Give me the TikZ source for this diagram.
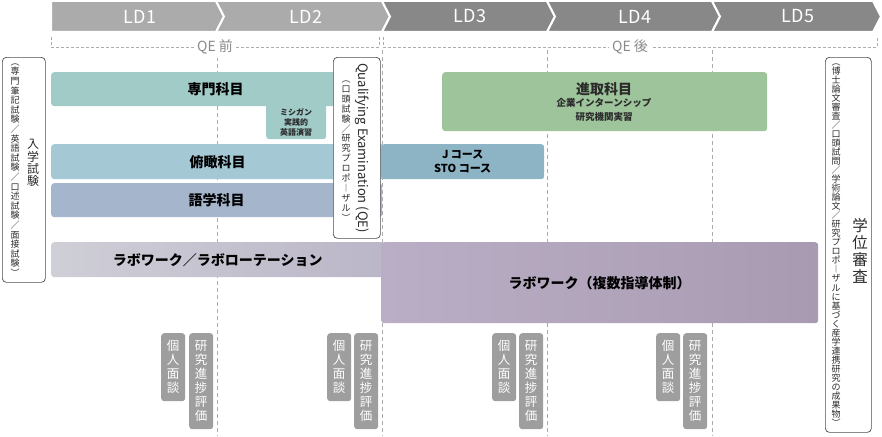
\documentclass[tikz,border=0pt]{standalone}
\usepackage{fontspec}
\setmainfont{Noto Sans CJK JP}
\usepackage{xcolor}
\usepackage{tikz}

\definecolor{ldlight}{HTML}{ABABAB}
\definecolor{lddark}{HTML}{888888}
\definecolor{senmoncol}{HTML}{A0CBC7}
\definecolor{fukancol}{HTML}{A5C8D5}
\definecolor{jcol}{HTML}{8DB4C5}
\definecolor{gogakucol}{HTML}{A5B5CC}
\definecolor{shinshucol}{HTML}{9DC49A}
\definecolor{labrotl}{HTML}{CFCFD7}
\definecolor{labrotr}{HTML}{BBB6C8}
\definecolor{labworkl}{HTML}{BAAEC6}
\definecolor{labworkr}{HTML}{A89BB1}
\definecolor{talkgray}{HTML}{9E9E9E}
\definecolor{framegray}{HTML}{4D4D4D}
\definecolor{guidegray}{HTML}{ABABAB}
\definecolor{txtdark}{HTML}{2B2B2B}
\definecolor{qegray}{HTML}{8A8A8A}

\newcommand{\ldfnt}{\fontsize{18}{20}\selectfont}
\newcommand{\qehdfnt}{\fontsize{14}{16}\selectfont}
\newcommand{\barfnt}{\fontsize{14}{16}\selectfont\bfseries}
\newcommand{\subfnt}{\fontsize{9.5}{11}\selectfont\bfseries}
\newcommand{\tabfnt}{\fontsize{8}{10}\selectfont\bfseries}
\newcommand{\coursefnt}{\fontsize{11}{14}\selectfont\bfseries}
\newcommand{\qefnt}{\fontsize{13}{15}\selectfont}
\newcommand{\tatebigfnt}{\fontsize{12}{14}\selectfont}
\newcommand{\tatemidfnt}{\fontsize{15.5}{18}\selectfont}
\newcommand{\tatesmallfnt}{\fontsize{9}{10}\selectfont}
\newcommand{\talkfnt}{\fontsize{12.5}{14}\selectfont}

% vertical (tategaki) stacking, one character per line
\newcommand{\tatech}[1]{\ifx#1\relax\else\hbox to 1em{\hss#1\hss}\expandafter\tatech\fi}
\newcommand{\tate}[2][1em]{\vbox{\baselineskip=#1\lineskiplimit=-100pt\lineskip=0pt\tatech#2\relax}}

\begin{document}
\begin{tikzpicture}[x=1pt,y=-1pt,
	chev/.style={draw=white,line width=2pt},
	ldtext/.style={text=white,font=\ldfnt},
	bracket/.style={draw=guidegray,line width=0.6pt,dash pattern=on 3pt off 2pt},
	qetext/.style={fill=white,text=qegray,font=\qehdfnt,inner xsep=3pt},
	guide/.style={draw=guidegray,line width=0.6pt,dash pattern=on 4pt off 3pt},
	band/.style={rounded corners=3pt,anchor=north west,inner sep=0pt},
	examframe/.style={draw=framegray,line width=0.7pt,fill=white,rounded corners=4pt,anchor=north west,inner sep=0pt},
	talk/.style={fill=talkgray,rounded corners=3pt,anchor=north west,inner sep=0pt,text=white,font=\talkfnt,minimum width=24pt}]
	\useasboundingbox (0,0) rectangle (882,436);
	%
	%  GUIDE LINES
	%
	\draw[guide] (217,50) -- (217,436);
	\draw[guide] (382,50) -- (382,436);
	\draw[guide] (547,50) -- (547,436);
	\draw[guide] (712,50) -- (712,436);
	%
	%  STAGES
	%
	\draw[chev,fill=ldlight] (51,1) -- (216,1) -- (224,16.5) -- (216,32) -- (51,32) -- cycle;
	\draw[chev,fill=ldlight] (216,1) -- (382,1) -- (390,16.5) -- (382,32) -- (216,32) -- (224,16.5) -- cycle;
	\draw[chev,fill=lddark] (382,1) -- (547,1) -- (555,16.5) -- (547,32) -- (382,32) -- (390,16.5) -- cycle;
	\draw[chev,fill=lddark] (547,1) -- (712,1) -- (720,16.5) -- (712,32) -- (547,32) -- (555,16.5) -- cycle;
	\draw[chev,fill=lddark] (712,1) -- (873,1) -- (881,16.5) -- (873,32) -- (712,32) -- (720,16.5) -- cycle;
	\node[ldtext] (LD1) at (140,16.5) {LD1};
	\node[ldtext] (LD2) at (306,16.5) {LD2};
	\node[ldtext] (LD3) at (470,16.5) {LD3};
	\node[ldtext] (LD4) at (635,16.5) {LD4};
	\node[ldtext] (LD5) at (798,16.5) {LD5};
	%
	\draw[bracket] (51,37) -- (51,47) -- node[qetext] (QEmae) {QE 前} (379,47) -- (379,37);
	\draw[bracket] (383,37) -- (383,47) -- node[qetext] (QEato) {QE 後} (877,47) -- (877,37);
	%
	%  COURSES
	%
	\node[band,fill=senmoncol,minimum width=329pt,minimum height=34pt] (senmon) at (51,72) {\barfnt 専門科目};
	\node[band,fill=senmoncol,minimum width=60pt,minimum height=39pt] (michigan) at (266,100) {};
	\node[font=\tabfnt,text=txtdark,align=center] (michiganT) at (296,122) {ミシガン\\実践的\\英語演習};
	\node[band,fill=fukancol,minimum width=333pt,minimum height=35pt] (fukan) at (51,144) {\barfnt 俯瞰科目};
	\node[band,fill=jcol,minimum width=163pt,minimum height=35pt,font=\coursefnt,align=center] (jcourse) at (381,144) {J コース\\STO コース};
	\node[band,fill=gogakucol,minimum width=331pt,minimum height=34pt] (gogaku) at (51,183) {\barfnt 語学科目};
	\node[band,fill=shinshucol,minimum width=325pt,minimum height=59pt] (shinshu) at (442,72) {};
	\node[text=txtdark,font=\barfnt] (shinshuT) at (604,89) {進取科目};
	\node[text=txtdark,font=\subfnt] (shinshu1) at (604,103) {企業インターンシップ};
	\node[text=txtdark,font=\subfnt] (shinshu2) at (604,117) {研究機関実習};
	\node[band,left color=labrotl,right color=labrotr,minimum width=333pt,minimum height=35pt] (labrot) at (51,242) {\barfnt ラボワーク／ラボローテーション};
	\node[band,left color=labworkl,right color=labworkr,minimum width=437pt,minimum height=81pt] (labwork) at (381,242) {\barfnt ラボワーク（複数指導体制）};
	%
	%  EXAMS
	%
	\node[examframe,minimum width=43pt,minimum height=225pt] (nyushi) at (2,57) {};
	\node[text=txtdark,font=\tatebigfnt] (nyushiT) at (33,163) {\tate[12.3pt]{入学試験}};
	\node[text=txtdark,font=\tatesmallfnt] (nyushiS) at (15,170) {\tate[9.6pt]{︵専門筆記試験／英語試験／口述試験／面接試験︶}};
	\node[examframe,minimum width=47pt,minimum height=181pt] (qe) at (333,57) {};
	\node[rotate=-90,text=txtdark,font=\qefnt] (qeT) at (362,148) {Qualifying Examination (QE)};
	\node[text=txtdark,font=\tatesmallfnt] (qeS) at (346,151) {\tate[9.9pt]{︵口頭試験／研究プロポ︱ザル︶}};
	\node[examframe,minimum width=46pt,minimum height=375pt] (gakui) at (825,57) {};
	\node[text=txtdark,font=\tatemidfnt] (gakuiT) at (860,251) {\tate[17pt]{学位審査}};
	\node[text=txtdark,font=\tatesmallfnt] (gakuiS) at (836,245) {\tate[9.04pt]{︵博士論文審査／口頭試問／学術論文／研究プロポ︱ザルに基づく産学連携研究の成果物︶}};
	%
	%  INTERVIEWS
	%
	\node[talk,minimum height=68pt] (men1) at (161,333) {\tate[14pt]{個人面談}};
	\node[talk,minimum height=96pt] (hyo1) at (189,333) {\tate[14pt]{研究進捗評価}};
	\node[talk,minimum height=68pt] (men2) at (327,333) {\tate[14pt]{個人面談}};
	\node[talk,minimum height=96pt] (hyo2) at (354,333) {\tate[14pt]{研究進捗評価}};
	\node[talk,minimum height=68pt] (men3) at (492,333) {\tate[14pt]{個人面談}};
	\node[talk,minimum height=96pt] (hyo3) at (519,333) {\tate[14pt]{研究進捗評価}};
	\node[talk,minimum height=68pt] (men4) at (656,333) {\tate[14pt]{個人面談}};
	\node[talk,minimum height=96pt] (hyo4) at (683,333) {\tate[14pt]{研究進捗評価}};
\end{tikzpicture}
\end{document}
